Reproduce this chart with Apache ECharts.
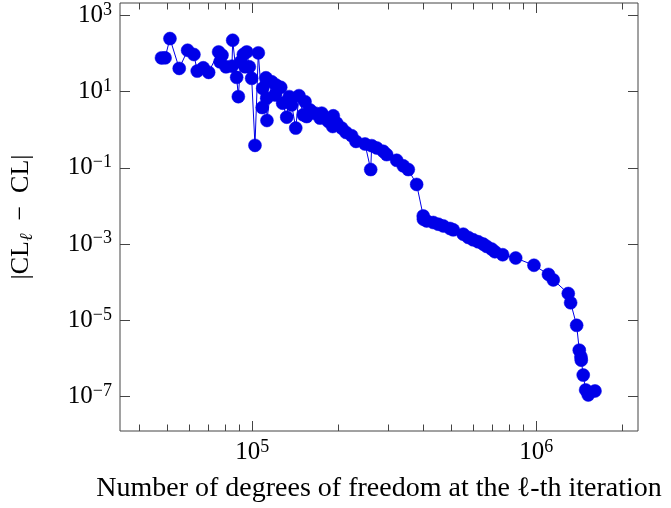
<!DOCTYPE html>
<html>
<head>
<meta charset="utf-8">
<script src="https://cdn.jsdelivr.net/npm/echarts@6/dist/echarts.min.js"></script>
<style>html,body{margin:0;padding:0;background:#fff}#c{width:671px;height:508px}</style>
</head>
<body>
<div id="c"></div>
<script>
// Degrees of freedom at each iteration
const dofs = [47900, 49300, 51300, 55300, 59200, 62300, 64000, 67200, 70200, 76100, 77000, 78200, 80800, 84800, 85300, 88100, 89300, 91000, 93000, 94300, 95600, 97600, 99500, 102200, 105000, 108400, 108800, 111700, 112400, 112600, 117000, 120200, 121200, 125900, 127900, 132200, 135000, 137600, 142200, 146000, 151200, 153300, 155400, 159600, 166200, 173100, 175500, 185200, 191900, 192800, 198200, 206400, 213700, 223800, 231700, 249300, 261100, 263200, 274100, 289100, 297200, 322300, 340000, 354100, 378900, 399700, 400400, 411000, 433600, 451500, 470200, 496400, 509900, 552800, 575700, 599500, 624300, 650100, 668300, 695900, 714800, 761000, 845600, 980600, 1103000, 1147000, 1295000, 1320000, 1386000, 1416000, 1435000, 1439000, 1462000, 1491000, 1523000, 1608000];
// |CL_l - CL|
const errors = [76.9, 77, 247, 40.7, 122, 94.3, 34.6, 42.2, 32.0, 110, 60.5, 90.4, 44.8, 46.7, 223, 23.7, 7.39, 60.5, 94.3, 44.8, 110, 44.8, 22.3, 0.389, 104, 3.82, 12.2, 23.1, 6.71, 1.75, 18.2, 8.18, 14.9, 13.0, 4.97, 2.14, 7.39, 4.49, 1.107, 7.85, 2.46, 5.47, 2.22, 3.32, 2.73, 2.02, 2.73, 1.645, 1.218, 2.32, 1.494, 1.107, 0.850, 0.697, 0.495, 0.423, 0.0904, 0.382, 0.333, 0.2714, 0.2226, 0.158, 0.1129, 0.0904, 0.0367, 0.00547, 0.00448, 0.00405, 0.00368, 0.00332, 0.0030, 0.002565, 0.00236, 0.00182, 0.001494, 0.001293, 0.001147, 0.000999, 0.00087, 0.00074, 0.000629, 0.000525, 0.000431, 0.000278, 0.00016, 0.000115, 5.04e-5, 2.885e-5, 7.38e-6, 1.643e-6, 1.105e-6, 9.01e-7, 3.66e-7, 1.487e-7, 1.10e-7, 1.40e-7];

const xMajorTicks = [1e5, 1e6];
const xMinorTicks = [4e4, 5e4, 6e4, 7e4, 8e4, 9e4, 2e5, 3e5, 4e5, 5e5, 6e5, 7e5, 8e5, 9e5, 2e6];
const yTicks = [1e-7, 1e-5, 1e-3, 1e-1, 1e1, 1e3];
const xRange = [34220, 2.279e6];
const yRange = [1.245e-8, 2118];

const FONT = '"Liberation Serif", "DejaVu Serif", serif';
const AX = '#444';
const BLUE = '#0000e8';

function powLabel(v) {
  const e = Math.round(Math.log10(v));
  const s = e < 0 ? '\u2212' + (-e) : String(e);
  return '{b|10}{s|' + s + '}';
}
const richPow = {
  b: { fontFamily: FONT, fontSize: 25, lineHeight: 29, color: '#000' },
  s: { fontFamily: FONT, fontSize: 18, lineHeight: 18, verticalAlign: 'top', color: '#000' }
};

function xAxisDef(pos, ticks, len, labels) {
  return {
    type: 'log', gridIndex: 0, position: pos, min: xRange[0], max: xRange[1],
    axisLine: { show: false }, splitLine: { show: false },
    axisTick: { show: true, inside: true, length: len, customValues: ticks, lineStyle: { color: AX, width: 1 } },
    axisLabel: labels ? { show: true, customValues: xMajorTicks, formatter: powLabel, rich: richPow, margin: 7 } : { show: false },
    name: labels ? 'Number of degrees of freedom at the \u2113-th iteration' : '',
    nameLocation: 'middle', nameGap: 44,
    nameTextStyle: { fontFamily: FONT, fontSize: 28, color: '#000' }
  };
}
function yAxisDef(pos, labels) {
  return {
    type: 'log', gridIndex: 0, position: pos, min: yRange[0], max: yRange[1],
    axisLine: { show: false }, splitLine: { show: false },
    axisTick: { show: true, inside: true, length: 10, customValues: yTicks, lineStyle: { color: AX, width: 1 } },
    axisLabel: labels ? { show: true, customValues: yTicks, formatter: powLabel, rich: richPow, margin: 8 } : { show: false },
    name: labels ? '{n|\u007cCL}{sub|\u2113}{n|\u2002\u2212\u2002CL\u007c}' : '',
    nameLocation: 'middle', nameGap: 84, nameRotate: 90,
    nameTextStyle: { fontFamily: FONT, fontSize: 26, color: '#000',
      rich: { n: { fontFamily: FONT, fontSize: 26, lineHeight: 30, color: '#000' },
              sub: { fontFamily: FONT, fontSize: 18, lineHeight: 18, fontStyle: 'italic', verticalAlign: 'bottom', color: '#000' } } }
  };
}

const chart = echarts.init(document.getElementById('c'), null, { renderer: 'canvas' });
chart.setOption({
  animation: false,
  backgroundColor: '#fff',
  grid: { left: 120, right: 33, top: 3, bottom: 75, show: true, borderColor: AX, borderWidth: 1, backgroundColor: 'transparent' },
  xAxis: [
    xAxisDef('bottom', xMajorTicks, 10, true),
    xAxisDef('bottom', xMinorTicks, 6.5, false),
    xAxisDef('top', xMajorTicks, 10, false),
    xAxisDef('top', xMinorTicks, 6.5, false)
  ],
  yAxis: [
    yAxisDef('left', true),
    yAxisDef('right', false)
  ],
  series: [{
    type: 'line', xAxisIndex: 0, yAxisIndex: 0,
    data: dofs.map((d, i) => [d, errors[i]]),
    symbol: 'circle', symbolSize: 13, showSymbol: true,
    itemStyle: { color: BLUE, borderColor: BLUE, borderWidth: 0.5 },
    lineStyle: { color: BLUE, width: 1 },
    emphasis: { disabled: true }
  }]
});
</script>
</body>
</html>
